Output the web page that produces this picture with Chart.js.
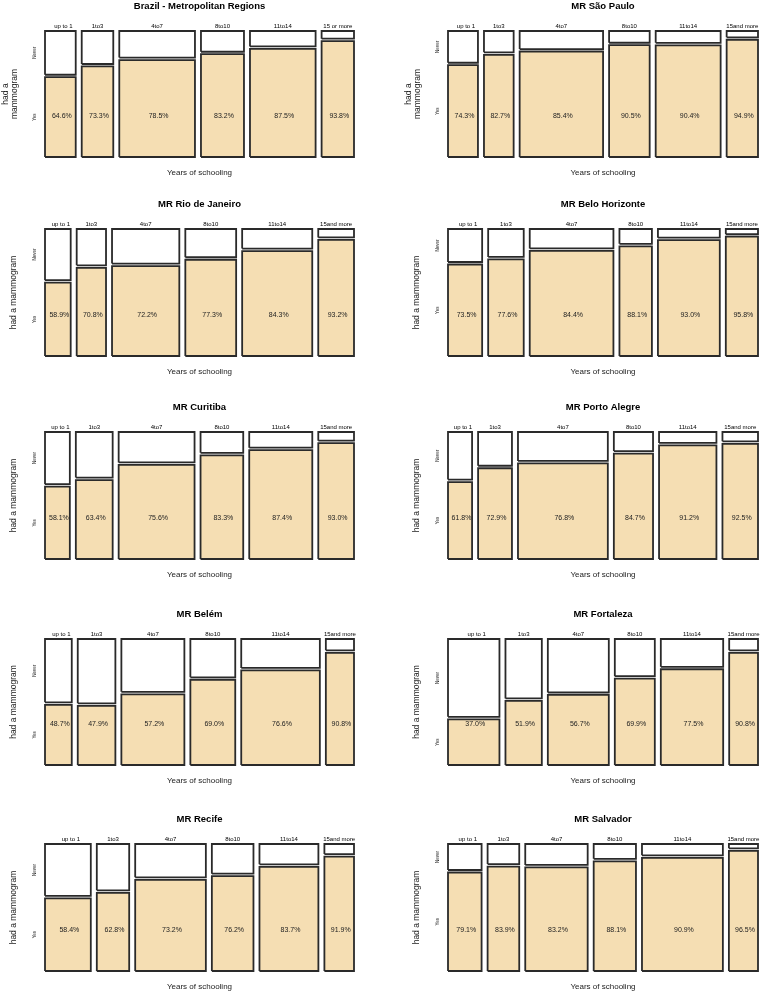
<!DOCTYPE html>
<html>
<head>
<meta charset="utf-8">
<script src="https://cdn.jsdelivr.net/npm/chart.js@4.4.0/dist/chart.umd.min.js"></script>
<style>
  html, body { margin: 0; padding: 0; background: #fff; overflow: hidden; }
  body { width: 763px; height: 992px; position: relative; }
  canvas { position: absolute; }
</style>
</head>
<body>
<script>
// regions, in reading order (left to right, top to bottom)
const regions = ["Brazil - Metropolitan Regions", "MR São Paulo", "MR Rio de Janeiro", "MR Belo Horizonte",
  "MR Curitiba", "MR Porto Alegre", "MR Belém", "MR Fortaleza", "MR Recife", "MR Salvador"];

const schooling = ["up to 1", "1to3", "4to7", "8to10", "11to14", "15and more"];
const schoolingBrazil = ["up to 1", "1to3", "4to7", "8to10", "11to14", "15 or more"];

// share of women in each schooling group (column widths, %)
const shareBR = [11.0, 11.3, 27.1, 15.4, 23.5, 11.6];
const shareSP = [10.7, 10.6, 29.8, 14.5, 23.2, 11.2];
const shareRJ = [9.2, 10.5, 24.1, 18.2, 25.1, 12.8];
const shareBH = [12.2, 12.7, 29.9, 11.6, 22.1, 11.5];
const shareCU = [8.9, 13.2, 27.2, 15.3, 22.6, 12.8];
const sharePA = [8.6, 12.1, 32.1, 14.0, 20.5, 12.7];
const shareBE = [9.6, 13.5, 22.6, 16.1, 28.2, 10.1];
const shareFO = [18.4, 13.0, 21.8, 14.3, 22.3, 10.3];
const shareRE = [16.4, 11.6, 25.3, 14.9, 21.1, 10.6];
const shareSA = [12.0, 11.3, 22.3, 15.1, 28.9, 10.4];

// % that had a mammogram ("Yes")
const yesBR = [64.6, 73.3, 78.5, 83.2, 87.5, 93.8];
const yesSP = [74.3, 82.7, 85.4, 90.5, 90.4, 94.9];
const yesRJ = [58.9, 70.8, 72.2, 77.3, 84.3, 93.2];
const yesBH = [73.5, 77.6, 84.4, 88.1, 93.0, 95.8];
const yesCU = [58.1, 63.4, 75.6, 83.3, 87.4, 93.0];
const yesPA = [61.8, 72.9, 76.8, 84.7, 91.2, 92.5];
const yesBE = [48.7, 47.9, 57.2, 69.0, 76.6, 90.8];
const yesFO = [37.0, 51.9, 56.7, 69.9, 77.5, 90.8];
const yesRE = [58.4, 62.8, 73.2, 76.2, 83.7, 91.9];
const yesSA = [79.1, 83.9, 83.2, 88.1, 90.9, 96.5];

const shares = [shareBR, shareSP, shareRJ, shareBH, shareCU, sharePA, shareBE, shareFO, shareRE, shareSA];
const yesVals = [yesBR, yesSP, yesRJ, yesBH, yesCU, yesPA, yesBE, yesFO, yesRE, yesSA];

const GAP_X = 2.15, GAP_Y = 2.0;
const FONT = '"Liberation Sans", Arial, sans-serif';
const rowTop = [31, 229, 432, 639, 844];
const rowH = [126, 127, 127, 126, 127];

function rect(x0, x1, y0, y1, fill) {
  return {
    data: [{x: x0, y: y0}, {x: x1, y: y0}, {x: x1, y: y1}, {x: x0, y: y1}, {x: x0, y: y0}],
    fill: 'shape',
    backgroundColor: fill,
    borderColor: '#2a2a2a',
    borderWidth: 1.8,
    borderJoinStyle: 'miter',
    pointRadius: 0,
    tension: 0,
    clip: 5
  };
}

// titles, category labels and percentages
const mosaicText = {
  id: 'mosaicText',
  afterDraw(chart, args, o) {
    const {ctx, chartArea: a, scales: {x, y}} = chart;
    ctx.save();
    ctx.textAlign = 'center';
    ctx.textBaseline = 'middle';
    ctx.fillStyle = '#000';
    ctx.font = 'bold 9.5px ' + FONT;
    ctx.fillText(o.title, (a.left + a.right) / 2, a.top - 25);

    o.starts.forEach((s, i) => {
      const cx = x.getPixelForValue(s + o.widths[i] / 2);
      ctx.fillStyle = '#000';
      ctx.font = '6px ' + FONT;
      ctx.fillText(o.labels[i], cx + (i === 0 ? 3 : 0), a.top - 5);
      ctx.fillStyle = '#222';
      ctx.font = '7px ' + FONT;
      ctx.fillText(o.yes[i].toFixed(1) + '%', cx + 1.5, y.getPixelForValue(0.325 * (100 + GAP_Y)));
    });

    ctx.fillStyle = '#222';
    ctx.font = '8px ' + FONT;
    ctx.fillText('Years of schooling', (a.left + a.right) / 2, a.bottom + 16);

    // y side
    const midY = (a.top + a.bottom) / 2;
    ctx.font = '8.5px ' + FONT;
    if (o.twoLine) {
      ctx.save(); ctx.translate(a.left - 39, midY); ctx.rotate(-Math.PI / 2);
      ctx.fillText('had a', 0, 0); ctx.restore();
      ctx.save(); ctx.translate(a.left - 30.5, midY); ctx.rotate(-Math.PI / 2);
      ctx.fillText('mammogram', 0, 0); ctx.restore();
    } else {
      ctx.save(); ctx.translate(a.left - 31, midY); ctx.rotate(-Math.PI / 2);
      ctx.fillText('had a mammogram', 0, 0); ctx.restore();
    }
    ctx.font = '4.5px ' + FONT;
    const p = o.yes[0];
    ctx.save(); ctx.translate(a.left - 10.5, y.getPixelForValue((p + GAP_Y + 100 + GAP_Y) / 2)); ctx.rotate(-Math.PI / 2);
    ctx.fillText('Never', 0, 0); ctx.restore();
    ctx.save(); ctx.translate(a.left - 10.5, y.getPixelForValue(p / 2)); ctx.rotate(-Math.PI / 2);
    ctx.fillText('Yes', 0, 0); ctx.restore();
    ctx.restore();
  }
};

regions.forEach((title, i) => {
  const row = Math.floor(i / 2), col = i % 2;
  const w = col ? 382 : 381;
  const h = 31 + rowH[row] + 22;
  const c = document.createElement('canvas');
  c.width = w; c.height = h;
  c.style.width = w + 'px'; c.style.height = h + 'px';
  c.style.left = (col ? 381 : 0) + 'px';
  c.style.top = (rowTop[row] - 31) + 'px';
  document.body.appendChild(c);

  const widths = shares[i], yes = yesVals[i];
  const starts = [];
  let acc = 0;
  widths.forEach(wd => { starts.push(acc); acc += wd + GAP_X; });
  const xMax = acc - GAP_X;

  const datasets = [];
  starts.forEach((s, k) => {
    datasets.push(rect(s, s + widths[k], 0, yes[k], '#F5DEB3'));
    datasets.push(rect(s, s + widths[k], yes[k] + GAP_Y, 100 + GAP_Y, '#ffffff'));
  });

  new Chart(c, {
    type: 'line',
    data: { datasets },
    options: {
      responsive: false,
      animation: false,
      devicePixelRatio: 1,
      events: [],
      layout: { padding: { left: col ? 67 : 45, right: col ? 5 : 27, top: 31, bottom: 22 } },
      scales: {
        x: { type: 'linear', min: 0, max: xMax, display: false },
        y: { type: 'linear', min: 0, max: 100 + GAP_Y, display: false }
      },
      plugins: {
        legend: { display: false },
        tooltip: { enabled: false },
        mosaicText: {
          title,
          labels: i === 0 ? schoolingBrazil : schooling,
          yes, starts, widths,
          twoLine: i < 2
        }
      }
    },
    plugins: [mosaicText]
  });
});
</script>
</body>
</html>
